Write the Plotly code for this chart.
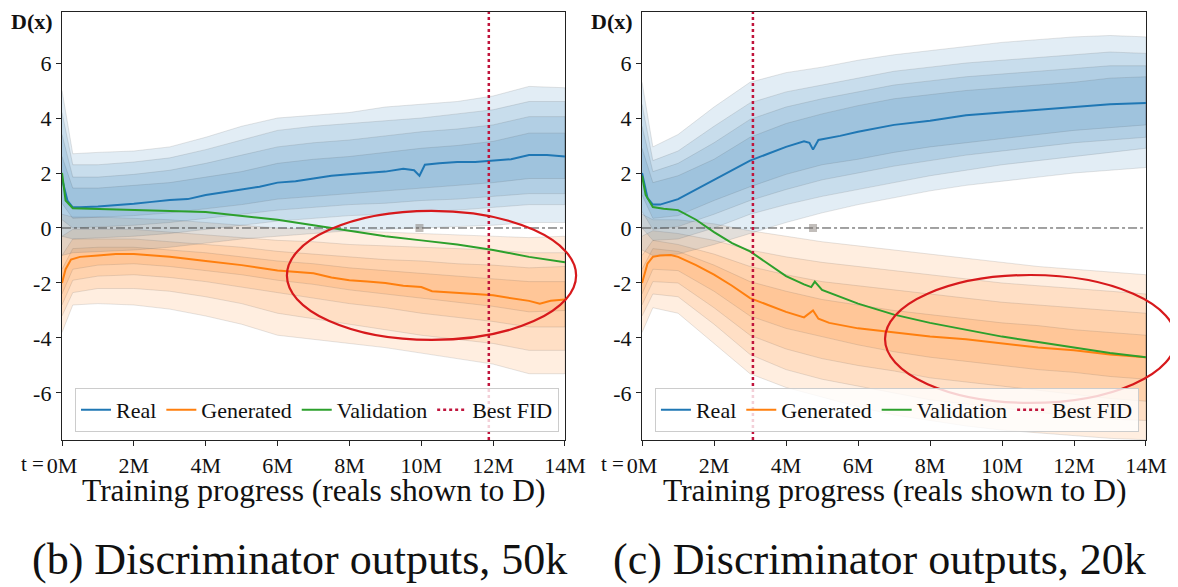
import plotly.graph_objects as go
from plotly.subplots import make_subplots

# ---------------- axes / ticks ----------------
X_RANGE = [0, 14]
Y_RANGE = [-7.71, 7.855]
x_tickvals = [0, 2, 4, 6, 8, 10, 12, 14]
x_ticktext = ["0M", "2M", "4M", "6M", "8M", "10M", "12M", "14M"]
y_tickvals = [-6, -4, -2, 0, 2, 4, 6]
y_ticktext = ["-6", "-4", "-2", "0", "2", "4", "6"]
legend_names = ["Real", "Generated", "Validation", "Best FID"]
captions = ["(b) Discriminator outputs, 50k", "(c) Discriminator outputs, 20k"]

# grid for percentile-band boundaries (millions of reals shown)
band_x = [0, 0.3, 1, 2, 3, 4, 5, 6, 7, 8, 9, 10, 11, 12, 13, 14]

# ================= (b) 50k =================
b_real_x = [0, 0.15, 0.3, 0.5, 1, 1.5, 2, 2.5, 3, 3.5, 4, 4.5, 5, 5.5, 6, 6.5, 7, 7.5, 8, 8.5,
            9, 9.5, 9.8, 9.95, 10.1, 10.5, 11, 11.5, 12, 12.5, 13, 13.5, 14]
b_real_y = [1.8, 1.0, 0.75, 0.75, 0.78, 0.82, 0.88, 0.95, 1.02, 1.05, 1.2, 1.3, 1.4, 1.5, 1.65, 1.7,
            1.8, 1.9, 1.95, 2.0, 2.05, 2.15, 2.1, 1.9, 2.3, 2.35, 2.4, 2.4, 2.45, 2.5, 2.65, 2.65, 2.6]
b_gen_x = [0, 0.1, 0.25, 0.5, 1, 1.5, 2, 3, 4, 5, 6, 7, 7.5, 8, 8.5, 9, 9.5, 10, 10.3, 11,
           11.5, 12, 12.5, 13, 13.3, 13.6, 14]
b_gen_y = [-2.0, -1.5, -1.15, -1.05, -1.0, -0.95, -0.95, -1.05, -1.2, -1.35, -1.55, -1.65, -1.8,
           -1.9, -1.95, -2.0, -2.1, -2.15, -2.3, -2.35, -2.4, -2.45, -2.55, -2.65, -2.75, -2.65, -2.6]
b_val_x = [0, 0.1, 0.3, 1, 2, 3, 4, 5, 6, 7, 8, 9, 10, 11, 12, 13, 14]
b_val_y = [2.0, 1.0, 0.72, 0.7, 0.65, 0.62, 0.58, 0.45, 0.3, 0.1, -0.1, -0.3, -0.45, -0.6, -0.8,
           -1.05, -1.25]
b_best_fid = 11.88

b_real_u1 = [2.6, 1.45, 1.45, 1.55, 1.65, 1.85, 2.05, 2.35, 2.5, 2.6, 2.75, 2.9, 3.0, 3.15, 3.45, 3.45]
b_real_u2 = [3.4, 1.85, 1.85, 1.95, 2.1, 2.35, 2.65, 2.95, 3.1, 3.2, 3.35, 3.5, 3.6, 3.75, 4.05, 4.05]
b_real_u3 = [4.2, 2.3, 2.3, 2.4, 2.55, 2.85, 3.2, 3.55, 3.7, 3.8, 3.9, 4.0, 4.15, 4.3, 4.6, 4.6]
b_real_u4 = [5.0, 2.7, 2.75, 2.8, 2.95, 3.3, 3.7, 4.0, 4.1, 4.2, 4.4, 4.5, 4.6, 4.8, 5.15, 5.1]
b_real_l1 = [0.9, 0.35, 0.4, 0.45, 0.55, 0.7, 0.85, 1.05, 1.15, 1.25, 1.35, 1.45, 1.55, 1.65, 1.8, 1.8]
b_real_l2 = [0.3, 0.0, 0.05, 0.1, 0.2, 0.35, 0.5, 0.65, 0.75, 0.85, 0.9, 1.0, 1.05, 1.15, 1.25, 1.25]
b_real_l3 = [-0.3, -0.4, -0.35, -0.3, -0.2, -0.05, 0.1, 0.25, 0.35, 0.45, 0.5, 0.6, 0.65, 0.75, 0.85, 0.85]
b_real_l4 = [-1.0, -0.9, -0.85, -0.8, -0.7, -0.55, -0.4, -0.3, -0.2, -0.1, -0.05, 0.0, 0.05, 0.1, 0.2, 0.2]

b_gen_u1 = [-1.5, -0.75, -0.7, -0.7, -0.8, -0.9, -1.05, -1.2, -1.3, -1.45, -1.55, -1.65, -1.75, -1.85, -1.95, -1.95]
b_gen_u2 = [-1.0, -0.4, -0.4, -0.4, -0.5, -0.6, -0.7, -0.85, -0.95, -1.05, -1.15, -1.2, -1.3, -1.35, -1.45, -1.4]
b_gen_u3 = [-0.3, -0.05, -0.05, -0.05, -0.15, -0.25, -0.35, -0.45, -0.5, -0.6, -0.65, -0.7, -0.75, -0.8, -0.9, -0.9]
b_gen_u4 = [0.5, 0.4, 0.4, 0.35, 0.3, 0.2, 0.1, 0.0, -0.05, -0.1, -0.15, -0.2, -0.25, -0.3, -0.35, -0.3]
b_gen_l1 = [-2.4, -1.5, -1.35, -1.3, -1.4, -1.55, -1.7, -1.9, -2.05, -2.25, -2.4, -2.55, -2.7, -2.85, -3.05, -3.0]
b_gen_l2 = [-2.8, -1.9, -1.75, -1.7, -1.8, -1.95, -2.15, -2.35, -2.55, -2.75, -2.9, -3.1, -3.25, -3.4, -3.6, -3.6]
b_gen_l3 = [-3.2, -2.35, -2.2, -2.2, -2.3, -2.5, -2.75, -3.1, -3.3, -3.5, -3.7, -3.9, -4.05, -4.2, -4.45, -4.45]
b_gen_l4 = [-3.8, -2.8, -2.75, -2.8, -2.95, -3.2, -3.5, -3.9, -4.05, -4.2, -4.35, -4.55, -4.75, -4.95, -5.3, -5.3]

# ================= (c) 20k =================
c_real_x = [0, 0.15, 0.3, 0.5, 1, 1.5, 2, 2.5, 3, 3.5, 4, 4.5, 4.65, 4.75, 4.9, 5.5, 6, 7, 8, 9,
            10, 11, 12, 13, 14]
c_real_y = [2.0, 1.1, 0.85, 0.85, 1.05, 1.4, 1.75, 2.1, 2.45, 2.7, 2.95, 3.15, 3.1, 2.85, 3.2, 3.35,
            3.5, 3.75, 3.9, 4.1, 4.2, 4.3, 4.4, 4.5, 4.55]
c_gen_x = [0, 0.15, 0.3, 0.5, 0.8, 1, 1.5, 2, 2.5, 3, 3.5, 4, 4.5, 4.65, 4.75, 4.9, 5.2, 6, 7, 8,
           9, 10, 11, 12, 13, 14]
c_gen_y = [-2.0, -1.3, -1.05, -1.0, -0.98, -1.05, -1.35, -1.7, -2.1, -2.55, -2.8, -3.05, -3.25,
           -3.1, -3.0, -3.3, -3.45, -3.65, -3.8, -3.95, -4.05, -4.2, -4.35, -4.45, -4.6, -4.7]
c_val_x = [0, 0.1, 0.3, 0.6, 1, 1.5, 2, 2.5, 3, 3.5, 4, 4.5, 4.7, 4.8, 5, 6, 7, 8, 9, 10, 11, 12,
           13, 14]
c_val_y = [1.9, 1.2, 0.76, 0.7, 0.65, 0.3, -0.15, -0.55, -0.85, -1.3, -1.75, -2.05, -2.15, -1.95,
           -2.25, -2.75, -3.15, -3.45, -3.7, -3.95, -4.15, -4.35, -4.55, -4.7]
c_best_fid = 3.08

c_real_u1 = [2.9, 1.65, 1.9, 2.5, 3.3, 3.8, 4.15, 4.45, 4.7, 4.85, 5.0, 5.1, 5.2, 5.3, 5.45, 5.5]
c_real_u2 = [3.7, 2.05, 2.35, 3.1, 3.95, 4.4, 4.7, 4.95, 5.2, 5.35, 5.5, 5.6, 5.7, 5.8, 5.9, 5.9]
c_real_u3 = [4.5, 2.45, 2.8, 3.7, 4.55, 4.95, 5.2, 5.45, 5.7, 5.85, 6.0, 6.1, 6.2, 6.3, 6.4, 6.35]
c_real_u4 = [5.3, 2.95, 3.4, 4.4, 5.3, 5.65, 5.85, 6.1, 6.3, 6.45, 6.6, 6.75, 6.85, 6.95, 7.0, 6.95]
c_real_l1 = [1.2, 0.35, 0.45, 1.0, 1.5, 1.95, 2.3, 2.5, 2.75, 2.95, 3.1, 3.25, 3.4, 3.55, 3.65, 3.75]
c_real_l2 = [0.6, -0.05, 0.05, 0.5, 1.0, 1.4, 1.75, 2.0, 2.25, 2.45, 2.65, 2.8, 2.95, 3.1, 3.2, 3.3]
c_real_l3 = [0.0, -0.45, -0.4, 0.0, 0.5, 0.85, 1.15, 1.4, 1.65, 1.9, 2.1, 2.3, 2.45, 2.6, 2.75, 2.9]
c_real_l4 = [-0.8, -1.0, -0.95, -0.6, -0.2, 0.2, 0.55, 0.85, 1.1, 1.35, 1.55, 1.7, 1.85, 2.0, 2.1, 2.2]

c_gen_u1 = [-1.5, -0.75, -0.85, -1.35, -1.95, -2.3, -2.6, -2.8, -3.0, -3.15, -3.3, -3.45, -3.55, -3.7, -3.8, -3.9]
c_gen_u2 = [-1.0, -0.45, -0.6, -0.95, -1.4, -1.7, -1.95, -2.1, -2.25, -2.4, -2.55, -2.7, -2.8, -2.9, -3.0, -3.1]
c_gen_u3 = [-0.3, -0.1, -0.2, -0.45, -0.8, -1.05, -1.25, -1.4, -1.55, -1.7, -1.85, -2.0, -2.1, -2.2, -2.3, -2.4]
c_gen_u4 = [0.5, 0.3, 0.3, 0.15, -0.1, -0.3, -0.5, -0.65, -0.8, -0.95, -1.1, -1.25, -1.4, -1.5, -1.6, -1.7]
c_gen_l1 = [-2.4, -1.5, -1.55, -2.3, -3.2, -3.65, -3.95, -4.25, -4.5, -4.7, -4.85, -5.0, -5.15, -5.25, -5.4, -5.5]
c_gen_l2 = [-2.8, -1.95, -2.0, -2.9, -3.9, -4.4, -4.75, -5.0, -5.2, -5.45, -5.6, -5.75, -5.9, -6.05, -6.2, -6.3]
c_gen_l3 = [-3.2, -2.4, -2.5, -3.5, -4.6, -5.15, -5.5, -5.75, -6.0, -6.25, -6.4, -6.55, -6.7, -6.85, -6.95, -7.0]
c_gen_l4 = [-3.8, -2.9, -3.1, -4.2, -5.3, -5.8, -6.15, -6.5, -6.8, -7.0, -7.2, -7.35, -7.45, -7.55, -7.65, -7.7]

# small grey artefact near y = 0
b_blob = [9.95, 0.0]
c_blob = [4.75, 0.0]

# highlight ellipses (data units: x0, x1, y0, y1)
b_ellipse = [6.26, 14.31, -4.07, 0.62]
c_ellipse = [6.75, 14.83, -6.36, -1.71]

# ---------------- styling ----------------
FONT = "Liberation Serif"
C_REAL = "#1f77b4"
C_GEN = "#ff7f0e"
C_VAL = "#2ca02c"
C_FID = "#c0143c"
RGB_REAL = "31,119,180"
RGB_GEN = "255,127,14"
DOMAINS = [[0.0, 0.4640], [0.5351, 1.0]]

fig = make_subplots(rows=1, cols=2)


def add_bands(col, uppers, lowers, rgb):
    for up, lo in zip(uppers[::-1], lowers[::-1]):
        fig.add_trace(go.Scatter(
            x=band_x + band_x[::-1], y=up + lo[::-1], mode="lines", fill="toself",
            fillcolor=f"rgba({rgb},0.13)",
            line=dict(color="rgba(70,70,70,0.18)", width=0.8),
            hoverinfo="skip", showlegend=False), row=1, col=col)


panels = [
    dict(col=1, legend="legend",
         real=(b_real_x, b_real_y), gen=(b_gen_x, b_gen_y), val=(b_val_x, b_val_y),
         fid=b_best_fid, blob=b_blob,
         ru=[b_real_u1, b_real_u2, b_real_u3, b_real_u4], rl=[b_real_l1, b_real_l2, b_real_l3, b_real_l4],
         gu=[b_gen_u1, b_gen_u2, b_gen_u3, b_gen_u4], gl=[b_gen_l1, b_gen_l2, b_gen_l3, b_gen_l4]),
    dict(col=2, legend="legend2",
         real=(c_real_x, c_real_y), gen=(c_gen_x, c_gen_y), val=(c_val_x, c_val_y),
         fid=c_best_fid, blob=c_blob,
         ru=[c_real_u1, c_real_u2, c_real_u3, c_real_u4], rl=[c_real_l1, c_real_l2, c_real_l3, c_real_l4],
         gu=[c_gen_u1, c_gen_u2, c_gen_u3, c_gen_u4], gl=[c_gen_l1, c_gen_l2, c_gen_l3, c_gen_l4]),
]

for p in panels:
    col = p["col"]
    add_bands(col, p["gu"], p["gl"], RGB_GEN)
    add_bands(col, p["ru"], p["rl"], RGB_REAL)
    # zero line
    fig.add_trace(go.Scatter(x=X_RANGE, y=[0, 0], mode="lines",
                             line=dict(color="#444444", width=1, dash="dashdot"),
                             hoverinfo="skip", showlegend=False), row=1, col=col)
    fig.add_trace(go.Scatter(x=[p["blob"][0]], y=[p["blob"][1]], mode="markers",
                             marker=dict(symbol="square", size=8, color="rgba(120,110,105,0.45)"),
                             hoverinfo="skip", showlegend=False), row=1, col=col)
    for (xs, ys), name, color in [(p["real"], legend_names[0], C_REAL),
                                  (p["gen"], legend_names[1], C_GEN),
                                  (p["val"], legend_names[2], C_VAL)]:
        fig.add_trace(go.Scatter(x=xs, y=ys, mode="lines", name=name,
                                 line=dict(color=color, width=2),
                                 legend=p["legend"]), row=1, col=col)
    fig.add_trace(go.Scatter(x=[p["fid"], p["fid"]], y=Y_RANGE, mode="lines", name=legend_names[3],
                             line=dict(color=C_FID, width=2.5, dash="dot"),
                             legend=p["legend"]), row=1, col=col)

axis_common = dict(showline=True, linecolor="#222", linewidth=1.3, mirror=True,
                   ticks="outside", ticklen=5, tickcolor="#222", showgrid=False, zeroline=False,
                   tickfont=dict(family=FONT, size=22, color="#111"))
for i, ax in enumerate(["xaxis", "xaxis2"]):
    fig.layout[ax].update(domain=DOMAINS[i], range=X_RANGE, tickvals=x_tickvals,
                          ticktext=x_ticktext, **axis_common)
for ax in ["yaxis", "yaxis2"]:
    fig.layout[ax].update(range=Y_RANGE, tickvals=y_tickvals, ticktext=y_ticktext, **axis_common)


def to_paper(xv, yv, dom):
    px = dom[0] + (xv - X_RANGE[0]) / (X_RANGE[1] - X_RANGE[0]) * (dom[1] - dom[0])
    py = (yv - Y_RANGE[0]) / (Y_RANGE[1] - Y_RANGE[0])
    return px, py


shapes = []
for ell, dom in [(b_ellipse, DOMAINS[0]), (c_ellipse, DOMAINS[1])]:
    x0, y0 = to_paper(ell[0], ell[2], dom)
    x1, y1 = to_paper(ell[1], ell[3], dom)
    shapes.append(dict(type="circle", xref="paper", yref="paper", x0=x0, x1=x1, y0=y0, y1=y1,
                       line=dict(color="#d7191c", width=2.2), layer="above"))

annotations = []
for i, dom in enumerate(DOMAINS):
    xa = "x" if i == 0 else "x2"
    annotations.append(dict(text="t =", xref=xa, yref="paper", x=0, y=0, xanchor="right",
                            yanchor="top", xshift=-16, yshift=-10, showarrow=False,
                            font=dict(family=FONT, size=21, color="#111")))
    annotations.append(dict(text="<b>D(x)</b>", xref="paper", yref="paper",
                            x=dom[0] - 0.0277, y=0.977, xanchor="center", yanchor="middle",
                            showarrow=False, font=dict(family=FONT, size=22, color="#111")))
    annotations.append(dict(text="Training progress (reals shown to D)", xref="paper", yref="paper",
                            x=(dom[0] + dom[1]) / 2, y=-0.117, xanchor="center", yanchor="middle",
                            showarrow=False, font=dict(family=FONT, size=31.5, color="#111")))
    annotations.append(dict(text=captions[i], xref="paper", yref="paper",
                            x=(dom[0] + dom[1]) / 2 - 0.013, y=-0.28, xanchor="center",
                            yanchor="middle", showarrow=False,
                            font=dict(family=FONT, size=44, color="#111")))

legend_common = dict(orientation="h", xanchor="left", yanchor="bottom", y=0.019,
                     bgcolor="rgba(255,255,255,0.8)", bordercolor="#cccccc", borderwidth=1,
                     font=dict(family=FONT, size=22, color="#111"), itemwidth=30,
                     tracegroupgap=0)
# the page body adds an 8 px margin, so the figure is 8 px smaller on each axis
fig.update_layout(
    width=1170, height=579,
    margin=dict(l=54, r=32, t=4, b=147),
    paper_bgcolor="white", plot_bgcolor="white",
    showlegend=True,
    legend=dict(x=0.012, **legend_common),
    legend2=dict(x=0.547, **legend_common),
    shapes=shapes, annotations=annotations,
    font=dict(family=FONT),
)

fig.write_html("out.html")
